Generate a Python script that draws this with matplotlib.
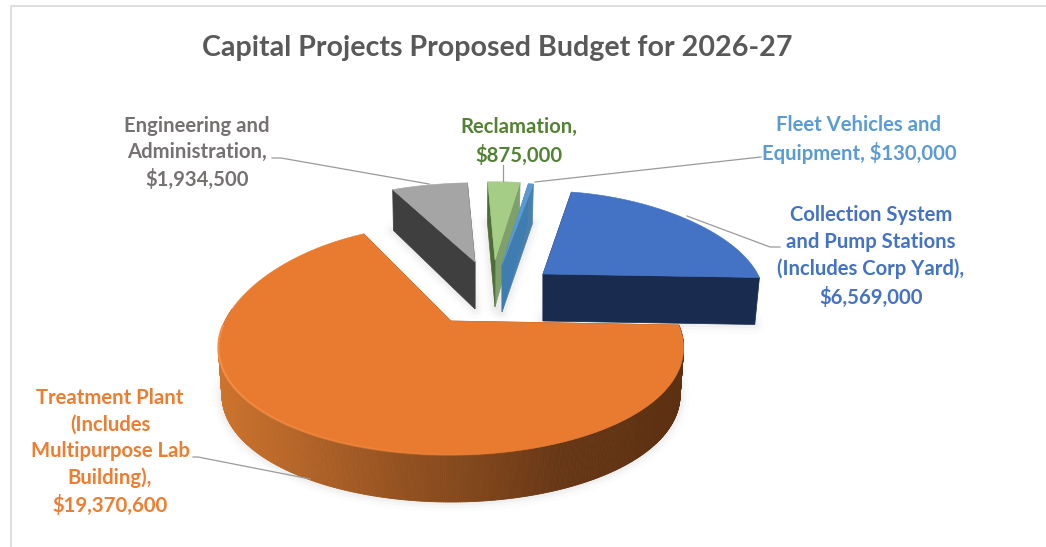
import numpy as np
import matplotlib
matplotlib.use("Agg")
import matplotlib.pyplot as plt
from matplotlib.collections import LineCollection, PolyCollection

plt.rcParams['font.family'] = ['Lato', 'DejaVu Sans']

title = "Capital Projects Proposed Budget for 2026-27"
# order runs clockwise round the pie
categories = ["Collection System\nand Pump Stations\n(Includes Corp Yard),\n{}",
              "Treatment Plant\n(Includes\nMultipurpose Lab\nBuilding),\n{}",
              "Engineering and\nAdministration,\n{}",
              "Reclamation,\n{}",
              "Fleet Vehicles and\nEquipment, {}"]
budget = [6569000, 19370600, 1934500, 875000, 130000]

top_colors = ["#4472c4", "#e97b30", "#a5a5a5", "#a5cd85", "#5b9bd5"]
left_side = ["#1a2b50", "#8a4a1e", "#3f3f3f", "#4f6d39", "#3f7cb0"]
right_side = ["#1a2b50", "#8a4a1e", "#3f3f3f", "#7f9f6b", "#4a80ad"]
text_colors = ["#4472c4", "#ed7d31", "#767171", "#548235", "#5b9bd5"]

# pie geometry in pixels: exploded offset and scale per slice
offset_x = [92, 0, 24, 44, 51]
offset_y = [-47, 0, -59, -61, -56]
scale_x = [0.95, 1.0, 1.05, 1.0, 1.05]
scale_y = [0.87, 1.0, 0.83, 0.82, 0.86]
skew = [0, 11, 0, 0, 0]
cx, cy, R = 451, 321, 226
START = 79.9

label_x = [871, 110, 197, 519, 859]
label_y = [256.5, 452, 153, 141.5, 139.5]

leaders = [[(687, 216), (770, 247), (780, 247)],
           [(193, 457), (198, 457), (310, 479)],
           [(272, 158), (281, 158), (429, 184)],
           [(503, 165), (503, 181)],
           [(761, 157), (535, 182)]]


def project(i, theta):
    u, v = np.cos(np.radians(theta)), np.sin(np.radians(theta))
    x = cx + offset_x[i] + scale_x[i] * R * u * (1 - 0.25 * v) - skew[i] * np.clip(v, 0, None) ** 2
    y = cy + offset_y[i] - scale_y[i] * v * (114.7 - 19.3 * v)
    return x, y


def drop(x, y, v):
    # bottom edge of the slab below a top-face point
    d = 47 - 7 * np.clip(v, 0, None)
    return cx + (x - cx) * (1 - 0.015 * d / 47), y + d


sweeps = 360 * np.array(budget) / sum(budget)
ends = START - np.cumsum(sweeps)
starts = ends + sweeps

fig = plt.figure(figsize=(10.46, 5.47), dpi=100)
ax = fig.add_axes([0, 0, 1, 1])
ax.set_xlim(0, 1046)
ax.set_ylim(547, 0)
ax.axis('off')

# chart frame
ax.plot([10.5, 10.5, 1046], [547, 5.5, 5.5], color="#d9d9d9", lw=1.2)

ax.text(497, 48, title, ha='center', va='center', fontsize=20.6,
        fontweight='bold', color="#595959")

# soft shadow below each slab
for i in range(5):
    th = np.linspace(starts[i], ends[i], 120)
    x, y = project(i, th)
    bx, by = drop(x, y, np.sin(np.radians(th)))
    ax0 = cx + offset_x[i]
    ay0 = cy + offset_y[i] + 47
    for lw, alpha in [(14, 0.025), (9, 0.035), (5, 0.05)]:
        ax.plot(np.r_[ax0, bx, ax0], np.r_[ay0, by, ay0], color="#808080",
                lw=lw, alpha=alpha, solid_capstyle='round', zorder=1)

# back slices first, the large orange slab goes on last
draw_order = [2, 3, 4, 0, 1]
for z, i in enumerate(draw_order, start=2):
    th = np.linspace(starts[i], ends[i], 160)
    x, y = project(i, th)
    apex_x, apex_y = cx + offset_x[i], cy + offset_y[i]

    # cut faces
    for edge, col in [(-1, right_side[i]), (0, left_side[i])]:
        ex, ey = x[edge], y[edge]
        bx, by = drop(ex, ey, np.sin(np.radians(th[edge])))
        ax.fill([apex_x, ex, bx, apex_x], [apex_y, ey, by, apex_y + 47],
                color=col, lw=0.5, zorder=z)

    # outer rim with a left to right shading
    if i == 1:
        rim = np.arange(-186, starts[i], 0.4)
        polys, cols = [], []
        c0 = np.array([0xcc, 0x73, 0x2e])
        c1 = np.array([0x5c, 0x30, 0x12])
        for a, b in zip(rim[:-1], rim[1:]):
            xa, ya = project(i, a)
            xb, yb = project(i, b)
            xa2, ya2 = drop(xa, ya, np.sin(np.radians(a)))
            xb2, yb2 = drop(xb, yb, np.sin(np.radians(b)))
            polys.append([(xa, ya), (xb, yb), (xb2, yb2), (xa2, ya2)])
            t = np.interp((xa + xb) / 2, [222, 300, 400, 480, 560, 684], [0, .22, .5, .68, .9, 1])
            cols.append((c0 + (c1 - c0) * t) / 255)
        ax.add_collection(PolyCollection(polys, facecolors=cols, edgecolors=cols,
                                         linewidths=0.6, zorder=z))

    ax.fill(np.r_[apex_x, x], np.r_[apex_y, y], color=top_colors[i], lw=0.4, zorder=z + 0.5)

    # lighter bevel along the front edge of the orange top, fading out to the right
    if i == 1:
        arc = np.linspace(-178, -70, 110)
        hx, hy = project(i, arc)
        segs = [[(hx[k], hy[k]), (hx[k + 1], hy[k + 1])] for k in range(len(arc) - 1)]
        fade = np.clip(np.linspace(1.2, 0, len(segs)), 0, 1)
        ax.add_collection(LineCollection(segs, colors=[(0.97, 0.56, 0.27, f) for f in fade],
                                         linewidths=1.6, zorder=z + 0.6))

# leader lines and labels
for pts in leaders:
    xs, ys = zip(*pts)
    ax.plot(xs, ys, color="#9a9a9a", lw=0.9, zorder=10)

for i in range(5):
    label = categories[i].format("${:,}".format(budget[i]))
    ax.text(label_x[i], label_y[i], label, ha='center', va='center', fontsize=14.6,
            fontweight='bold', color=text_colors[i], linespacing=1.415, zorder=11)

fig.savefig("out.png", dpi=100, facecolor="white")
